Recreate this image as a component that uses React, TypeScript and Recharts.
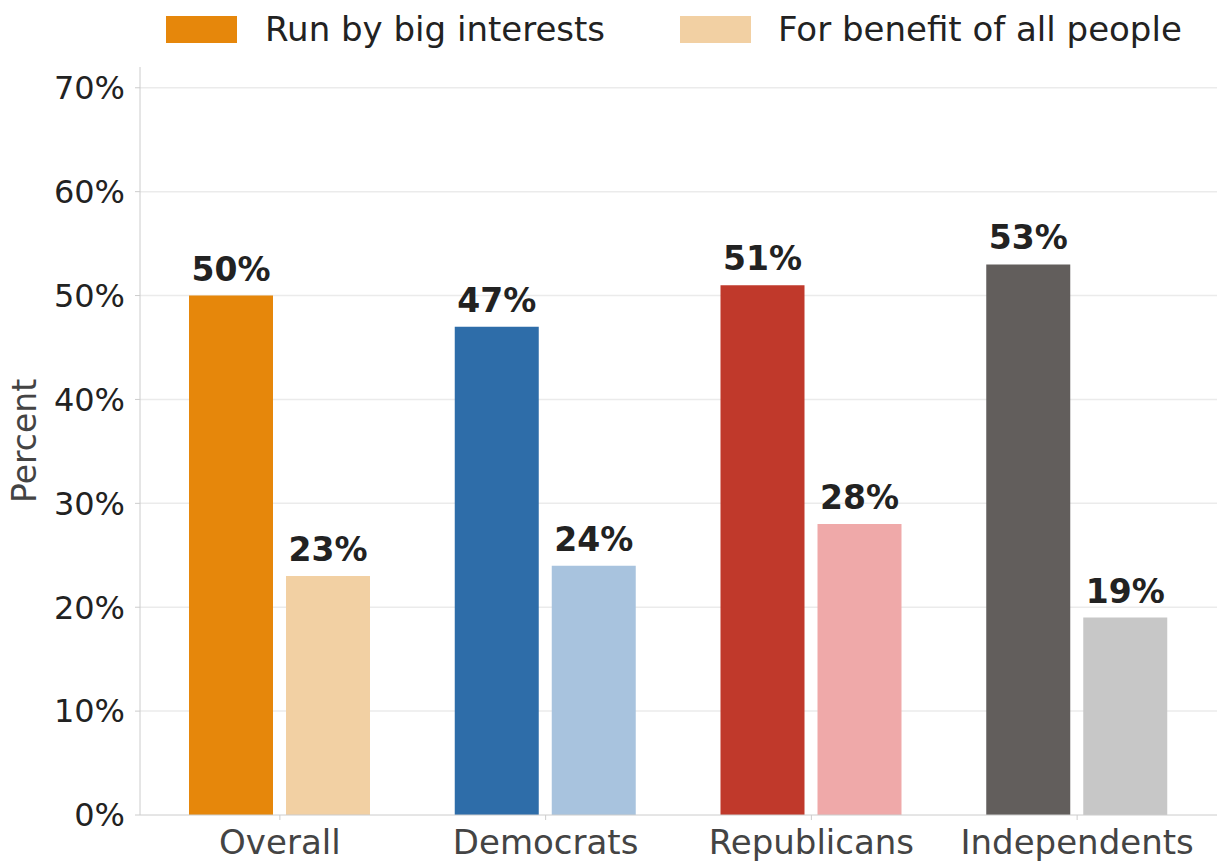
import React from "react";
import {
  BarChart,
  Bar,
  XAxis,
  YAxis,
  CartesianGrid,
  Cell,
  LabelList,
} from "recharts";

const categories = ["Overall", "Democrats", "Republicans", "Independents"];
const bigInterests = [50, 47, 51, 53];
const allPeople = [23, 24, 28, 19];
const darkColors = ["#E6870B", "#2E6DA9", "#C0392B", "#625E5C"];
const lightColors = ["#F2D0A3", "#A8C3DE", "#EFA9A9", "#C7C7C7"];
const yTicks = [0, 10, 20, 30, 40, 50, 60, 70];
const seriesNames = ["Run by big interests", "For benefit of all people"];

const FONT = "'DejaVu Sans', sans-serif";

const data = categories.map((c, i) => ({
  category: c,
  big: bigInterests[i],
  all: allPeople[i],
}));

const renderValue = (props: any) => {
  const { x, y, width, value } = props;
  return (
    <text
      x={x + width / 2}
      y={y - 15}
      textAnchor="middle"
      fontFamily={FONT}
      fontWeight="bold"
      fontSize={33}
      fill="#222"
    >
      {`${value}%`}
    </text>
  );
};

function LegendBox() {
  const items = [
    { name: seriesNames[0], color: darkColors[0], left: 166, textLeft: 265 },
    { name: seriesNames[1], color: lightColors[0], left: 680, textLeft: 778 },
  ];
  return (
    <>
      {items.map((it) => (
        <React.Fragment key={it.name}>
          <div
            style={{
              position: "absolute",
              left: it.left,
              top: 16,
              width: 71,
              height: 27,
              background: it.color,
            }}
          />
          <div
            style={{
              position: "absolute",
              left: it.textLeft,
              top: 8,
              fontFamily: FONT,
              fontSize: 34,
              lineHeight: "42px",
              color: "#222",
              whiteSpace: "nowrap",
            }}
          >
            {it.name}
          </div>
        </React.Fragment>
      ))}
    </>
  );
}

export default function App() {
  return (
    <div
      style={{
        position: "absolute",
        left: 0,
        top: 0,
        width: 1217,
        height: 863,
        background: "#fff",
      }}
    >
      <BarChart
        width={1217}
        height={863}
        data={data}
        margin={{ top: 67, right: 0, bottom: 0, left: 0 }}
        barGap={13}
      >
        <CartesianGrid
          vertical={false}
          horizontalValues={yTicks.slice(1)}
          stroke="#ebebeb"
          strokeWidth={1.5}
        />
        <XAxis
          dataKey="category"
          height={48}
          padding={{ left: 7, right: 7 }}
          stroke="#cccccc"
          tickSize={5}
          tickMargin={10}
          tick={{ fontFamily: FONT, fontSize: 34, fill: "#444" }}
          interval={0}
        />
        <YAxis
          width={140}
          domain={[0, 72]}
          ticks={yTicks}
          allowDataOverflow
          stroke="#cccccc"
          tickSize={5}
          tickMargin={10}
          tickFormatter={(v: number) => `${v}%`}
          tick={{ fontFamily: FONT, fontSize: 32, fill: "#222" }}
          label={{
            value: "Percent",
            angle: -90,
            position: "insideLeft",
            offset: 24,
            style: {
              fontFamily: FONT,
              fontSize: 33,
              fill: "#444",
              textAnchor: "middle",
            },
          }}
        />
        <Bar dataKey="big" barSize={84} isAnimationActive={false}>
          {data.map((d, i) => (
            <Cell key={d.category} fill={darkColors[i]} />
          ))}
          <LabelList dataKey="big" content={renderValue} />
        </Bar>
        <Bar dataKey="all" barSize={84} isAnimationActive={false}>
          {data.map((d, i) => (
            <Cell key={d.category} fill={lightColors[i]} />
          ))}
          <LabelList dataKey="all" content={renderValue} />
        </Bar>
      </BarChart>
      <LegendBox />
    </div>
  );
}
